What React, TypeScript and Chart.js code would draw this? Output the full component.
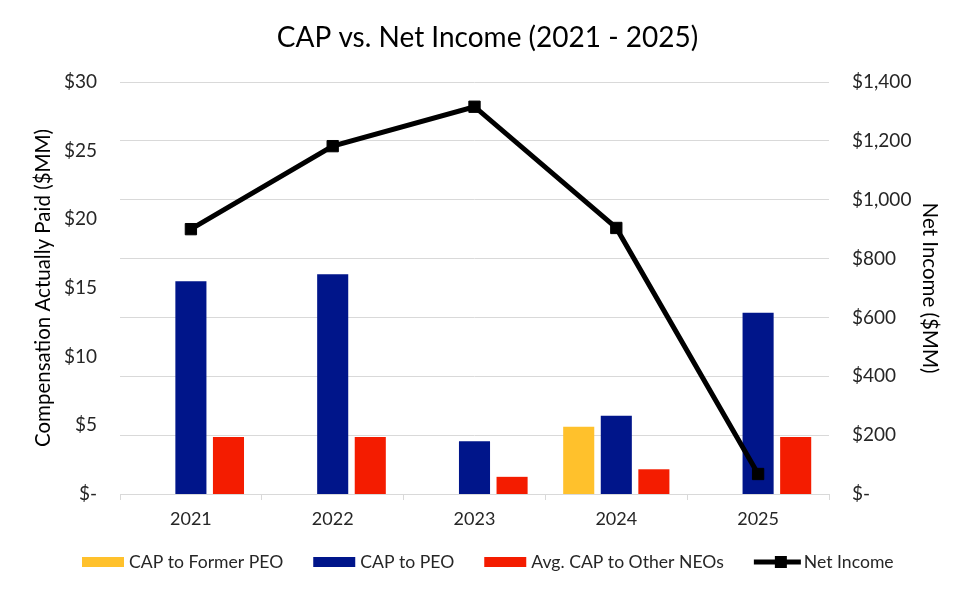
import React, { useEffect, useRef } from "react";
import { Chart, registerables } from "chart.js";

Chart.register(...registerables);

const years: string[] = ["2021", "2022", "2023", "2024", "2025"];
const capFormerPeo: (number | null)[] = [null, null, null, 4.9, null];
const capPeo: number[] = [15.5, 16.0, 3.85, 5.7, 13.2];
const capOtherNeos: number[] = [4.15, 4.15, 1.25, 1.8, 4.15];
const netIncome: number[] = [900, 1182, 1316, 904, 68];

const titleText = "CAP vs. Net Income (2021 - 2025)";
const leftAxisTitle = "Compensation Actually Paid ($MM)";
const rightAxisTitle = "Net Income ($MM)";
const seriesNames = ["CAP to Former PEO", "CAP to PEO", "Avg. CAP to Other NEOs", "Net Income"];

const YELLOW = "#FFC12C";
const BLUE = "#00158A";
const RED = "#F41C00";
const GRID = "#D9D9D9";
const TEXT = "#262626";
const FONT = "Lato, 'Open Sans', sans-serif";

const legendPlugin = {
  id: "customLegend",
  afterDraw(chart: any) {
    const ctx: CanvasRenderingContext2D = chart.ctx;
    ctx.save();
    ctx.font = `17.6px ${FONT}`;
    ctx.textBaseline = "middle";
    ctx.textAlign = "left";
    const y = 562;
    let x = 82;
    const colors = [YELLOW, BLUE, RED];
    seriesNames.forEach((name, i) => {
      if (i < 3) {
        ctx.fillStyle = colors[i];
        ctx.fillRect(x, y - 5, 42, 10);
        x += 42 + 5;
      } else {
        ctx.strokeStyle = "#000";
        ctx.lineWidth = 5;
        ctx.beginPath();
        ctx.moveTo(x, y);
        ctx.lineTo(x + 47, y);
        ctx.stroke();
        ctx.fillStyle = "#000";
        ctx.fillRect(x + 21, y - 6, 12, 12);
        x += 47 + 3;
      }
      ctx.fillStyle = TEXT;
      ctx.fillText(name, x, y);
      x += ctx.measureText(name).width + 30;
    });
    ctx.restore();
  },
};

export default function App() {
  const canvasRef = useRef<HTMLCanvasElement | null>(null);

  useEffect(() => {
    document.body.style.margin = "0";
    const canvas = canvasRef.current;
    if (!canvas) return;
    const chart = new Chart(canvas, {
      type: "bar",
      data: {
        labels: years,
        datasets: [
          {
            type: "line",
            label: seriesNames[3],
            data: netIncome,
            yAxisID: "y1",
            borderColor: "#000",
            backgroundColor: "#000",
            borderWidth: 5,
            pointStyle: "rect",
            pointRadius: 8,
            pointBorderWidth: 1,
            pointBackgroundColor: "#000",
            pointBorderColor: "#000",
            order: 0,
            tension: 0,
          } as any,
          {
            type: "bar",
            label: seriesNames[0],
            data: capFormerPeo,
            backgroundColor: YELLOW,
            yAxisID: "y",
            order: 1,
            categoryPercentage: 0.795,
            barPercentage: 0.827,
          },
          {
            type: "bar",
            label: seriesNames[1],
            data: capPeo,
            backgroundColor: BLUE,
            yAxisID: "y",
            order: 1,
            categoryPercentage: 0.795,
            barPercentage: 0.827,
          },
          {
            type: "bar",
            label: seriesNames[2],
            data: capOtherNeos,
            backgroundColor: RED,
            yAxisID: "y",
            order: 1,
            categoryPercentage: 0.795,
            barPercentage: 0.827,
          },
        ],
      },
      options: {
        animation: false,
        responsive: true,
        maintainAspectRatio: false,
        layout: { padding: { left: 0, right: 0, top: 0, bottom: 63 } },
        plugins: {
          legend: { display: false },
          tooltip: { enabled: false },
          title: {
            display: true,
            text: titleText,
            color: "#000",
            font: { family: FONT, size: 28, weight: "normal" as any, lineHeight: 1.2 },
            padding: { top: 21, bottom: 27.4 },
          },
        },
        scales: {
          x: {
            type: "category",
            grid: {
              display: true,
              offset: true,
              drawOnChartArea: false,
              drawTicks: true,
              tickLength: 6,
              color: GRID,
            },
            border: { display: true, color: GRID },
            ticks: { color: TEXT, font: { family: FONT, size: 18 }, padding: 8 },
            afterFit: (scale: any) => {
              scale.height = 40;
            },
          },
          y: {
            type: "linear",
            position: "left",
            min: 0,
            max: 30,
            grid: { display: false, drawTicks: false },
            border: { display: false },
            ticks: {
              stepSize: 5,
              color: TEXT,
              padding: 23,
              font: { family: FONT, size: 19 },
              callback: (v: any) => (Number(v) === 0 ? "$-" : "$" + v),
            },
            title: {
              display: true,
              text: leftAxisTitle,
              color: "#000",
              font: { family: FONT, size: 20.5, lineHeight: 1.2 },
              padding: { top: 30.7, bottom: 0 },
            },
            afterFit: (scale: any) => {
              scale.width = 120;
            },
          },
          y1: {
            type: "linear",
            position: "right",
            min: 0,
            max: 1400,
            grid: { display: true, color: GRID, drawTicks: false },
            border: { display: false },
            ticks: {
              stepSize: 200,
              color: TEXT,
              padding: 23,
              font: { family: FONT, size: 19 },
              callback: (v: any) =>
                Number(v) === 0 ? "$-" : "$" + Number(v).toLocaleString("en-US"),
            },
            title: {
              display: true,
              text: rightAxisTitle,
              color: "#000",
              font: { family: FONT, size: 20.5, lineHeight: 1.2 },
              padding: { top: 32.7, bottom: 0 },
            },
            afterFit: (scale: any) => {
              scale.width = 146;
            },
          },
        },
      },
      plugins: [legendPlugin],
    });
    return () => chart.destroy();
  }, []);

  return (
    <div style={{ position: "fixed", left: 0, top: 0, width: 975, height: 597, background: "#fff" }}>
      <canvas ref={canvasRef} />
    </div>
  );
}
